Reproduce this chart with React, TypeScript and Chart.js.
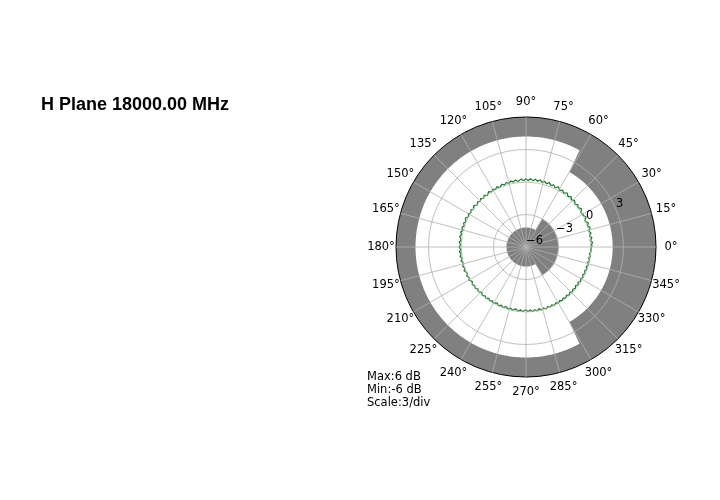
import React, { useEffect, useRef } from "react";
import { Chart, registerables } from "chart.js";

Chart.register(...registerables);

const TITLE = "H Plane 18000.00 MHz";
const NOTES = ["Max:6 dB", "Min:-6 dB", "Scale:3/div"];

const R_MIN = -6;
const R_MAX = 6;
const R_STEP = 3;
const R_TICK_VALUES = [-6, -3, 0, 3];
const R_TICK_LABELS = ["\u22126", "\u22123", "0", "3"];
const R_LABEL_ANGLE = 22.5;

const ANGLE_TICKS = [0, 15, 30, 45, 60, 75, 90, 105, 120, 135, 150, 165, 180, 195, 210, 225, 240, 255, 270, 285, 300, 315, 330, 345];
const ANGLE_TICK_LABELS = ["0°", "15°", "30°", "45°", "60°", "75°", "90°", "105°", "120°", "135°", "150°", "165°", "180°", "195°", "210°", "225°", "240°", "255°", "270°", "285°", "300°", "315°", "330°", "345°"];

// front sector of the mask: theta >= 300 or theta <= 60
const MASK_FRONT_SECTOR = [300, 60];
// mask limits in dB: [front sector, remaining sector]
const UPPER_MASK_DB = [2.0, 4.2];
const LOWER_MASK_DB = [-3.0, -4.2];

// measured gain (dB), theta = 0..359 deg, counter-clockwise
const GAIN_DB = [
  0.02, 0.10, 0.01, 0.12, 0.16, 0.05, -0.04, 0.07, 0.14, 0.04, -0.05, 0.03, 0.13, 0.06, -0.03,
  0.04, 0.14, 0.18, 0.08, 0.00, 0.07, 0.16, 0.09, -0.01, -0.05, 0.05, 0.15, 0.19, 0.10, 0.02,
  0.09, 0.01, -0.04, 0.06, 0.17, 0.21, 0.11, 0.02, 0.08, 0.18, 0.10, 0.00, 0.07, 0.16, 0.20,
  0.11, 0.04, 0.13, 0.23, 0.15, 0.06, 0.12, 0.22, 0.26, 0.16, 0.07, 0.14, 0.24, 0.17, 0.09,
  0.15, 0.25, 0.29, 0.19, 0.11, 0.18, 0.28, 0.20, 0.13, 0.22, 0.31, 0.23, 0.14, 0.21, 0.30,
  0.22, 0.15, 0.24, 0.33, 0.25, 0.17, 0.23, 0.32, 0.24, 0.16, 0.22, 0.31, 0.23, 0.15, 0.21,
  0.29, 0.21, 0.13, 0.20, 0.30, 0.22, 0.14, 0.10, 0.18, 0.27, 0.19, 0.11, 0.17, 0.25, 0.16,
  0.08, 0.15, 0.23, 0.14, 0.06, 0.12, 0.21, 0.13, 0.05, 0.01, 0.10, 0.18, 0.09, 0.01, 0.08,
  0.16, 0.07, -0.01, 0.06, 0.15, 0.08, 0.00, -0.05, 0.04, 0.13, 0.05, -0.03, 0.03, 0.12, 0.04,
  -0.04, 0.02, 0.11, 0.03, -0.06, 0.01, 0.10, 0.14, 0.05, -0.02, 0.04, 0.13, 0.06, -0.01, 0.05,
  0.14, 0.07, 0.00, 0.06, 0.15, 0.18, 0.09, 0.02, 0.08, 0.17, 0.10, 0.03, 0.09, 0.18, 0.11,
  0.04, 0.10, 0.19, 0.12, 0.05, 0.11, 0.20, 0.13, 0.06, 0.02, 0.09, 0.18, 0.11, 0.04, 0.10,
  0.17, 0.09, 0.02, 0.08, 0.16, 0.08, 0.01, 0.07, 0.15, 0.07, -0.01, 0.05, 0.13, 0.06, -0.01,
  -0.04, 0.03, 0.11, 0.04, -0.03, 0.04, 0.12, 0.05, -0.02, -0.06, 0.01, 0.09, 0.02, -0.05, 0.01,
  0.08, 0.02, -0.06, -0.10, -0.02, 0.05, -0.01, -0.08, -0.02, 0.04, -0.03, -0.11, -0.04, 0.03, -0.03,
  -0.10, -0.14, -0.06, 0.01, -0.05, -0.12, -0.06, 0.00, -0.07, -0.15, -0.08, -0.01, -0.07, -0.14, -0.06,
  0.00, -0.07, -0.15, -0.18, -0.10, -0.03, -0.09, -0.17, -0.10, -0.03, -0.09, -0.16, -0.19, -0.11, -0.05,
  -0.11, -0.18, -0.10, -0.04, -0.10, -0.17, -0.20, -0.12, -0.05, -0.11, -0.18, -0.10, -0.03, -0.09, -0.16,
  -0.19, -0.11, -0.04, -0.10, -0.17, -0.09, -0.02, -0.08, -0.16, -0.09, -0.03, -0.10, -0.17, -0.09, -0.02,
  -0.08, -0.15, -0.07, 0.00, -0.06, -0.14, -0.07, -0.01, -0.08, -0.15, -0.08, -0.02, -0.09, -0.16, -0.08,
  -0.02, -0.08, -0.16, -0.09, -0.03, -0.10, -0.17, -0.10, -0.04, -0.11, -0.19, -0.12, -0.05, -0.11, -0.18,
  -0.10, -0.04, -0.10, -0.18, -0.11, -0.05, -0.12, -0.20, -0.13, -0.06, -0.12, -0.19, -0.11, -0.05, -0.11,
  -0.18, -0.10, -0.04, -0.10, -0.17, -0.09, -0.03, -0.09, -0.16, -0.08, -0.02, -0.08, -0.15, -0.07, -0.01,
  -0.07, -0.14, -0.06, 0.00, -0.06, -0.13, -0.05, 0.01, -0.05, -0.12, -0.04, 0.03, -0.04, 0.04, -0.02,
];

const N = GAIN_DB.length;
// radar index i runs clockwise from east => theta = (360 - i) mod 360
const thetaOf = (i: number) => (N - i) % N;
const inFront = (t: number) => t >= MASK_FRONT_SECTOR[0] || t <= MASK_FRONT_SECTOR[1];

const FONT = '"DejaVu Sans", "Noto Sans", sans-serif';

const labelPlugin = {
  id: "polarLabels",
  afterDraw(chart: any) {
    const scale = chart.scales.r;
    const ctx = chart.ctx;
    ctx.save();
    ctx.font = `11.5px ${FONT}`;
    ctx.fillStyle = "#000";
    ctx.textAlign = "center";
    ctx.textBaseline = "middle";
    ANGLE_TICKS.forEach((a, k) => {
      const idx = (N - a) % N;
      const p = scale.getPointPosition(idx, scale.drawingArea + 15);
      ctx.fillText(ANGLE_TICK_LABELS[k], p.x, p.y);
    });
    ctx.textAlign = "left";
    ctx.textBaseline = "bottom";
    R_TICK_VALUES.forEach((v, k) => {
      const p = scale.getPointPositionForValue(N - R_LABEL_ANGLE, v);
      ctx.fillText(R_TICK_LABELS[k], p.x, p.y);
    });
    ctx.restore();
  },
};

export default function App() {
  const ref = useRef<HTMLCanvasElement | null>(null);

  useEffect(() => {
    if (!ref.current) return;
    const labels = GAIN_DB.map((_, i) => String(thetaOf(i)));
    const gain = GAIN_DB.map((_, i) => GAIN_DB[thetaOf(i)]);
    const upper = GAIN_DB.map((_, i) => (inFront(thetaOf(i)) ? UPPER_MASK_DB[0] : UPPER_MASK_DB[1]));
    const lower = GAIN_DB.map((_, i) => (inFront(thetaOf(i)) ? LOWER_MASK_DB[0] : LOWER_MASK_DB[1]));

    const chart = new Chart(ref.current, {
      type: "radar",
      data: {
        labels,
        datasets: [
          {
            data: upper,
            fill: "end",
            backgroundColor: "#808080",
            borderWidth: 0,
            borderColor: "rgba(0,0,0,0)",
            pointRadius: 0,
          },
          {
            data: lower,
            fill: "start",
            backgroundColor: "#808080",
            borderWidth: 0,
            borderColor: "rgba(0,0,0,0)",
            pointRadius: 0,
          },
          {
            data: gain,
            fill: false,
            borderColor: "#147a24",
            borderWidth: 1.2,
            pointRadius: 0,
          },
        ],
      },
      options: {
        responsive: false,
        animation: false,
        devicePixelRatio: 1,
        layout: { padding: { left: 396, top: 117, right: 64, bottom: 123 } },
        plugins: {
          legend: { display: false },
          tooltip: { enabled: false },
        },
        elements: { line: { tension: 0 }, point: { radius: 0 } },
        scales: {
          r: {
            min: R_MIN,
            max: R_MAX,
            startAngle: 90,
            ticks: { display: false, stepSize: R_STEP },
            pointLabels: { display: false },
            grid: {
              circular: true,
              z: 1,
              color: (c: any) => (c.tick && c.tick.value === R_MAX ? "#000000" : "#b0b0b0"),
              lineWidth: (c: any) => (c.tick && c.tick.value === R_MAX ? 1 : 0.8),
            },
            angleLines: {
              display: true,
              color: "#b0b0b0",
              lineWidth: (c: any) => (Number(c.label) % 15 === 0 ? 0.8 : 0),
            },
          },
        },
      } as any,
      plugins: [labelPlugin],
    });
    return () => chart.destroy();
  }, []);

  return (
    <div style={{ position: "absolute", left: 0, top: 0, width: 720, height: 500, background: "#fff" }}>
      <canvas ref={ref} width={720} height={500} style={{ position: "absolute", left: 0, top: 0, width: 720, height: 500 }} />
      <div
        style={{
          position: "absolute",
          left: 41,
          top: 95,
          font: 'bold 18px Arial, "Liberation Sans", sans-serif',
          lineHeight: "18px",
          color: "#000",
          whiteSpace: "nowrap",
        }}
      >
        {TITLE}
      </div>
      <div
        style={{
          position: "absolute",
          left: 367,
          top: 369.5,
          fontFamily: FONT,
          fontSize: 11.5,
          lineHeight: "13px",
          color: "#000",
          whiteSpace: "nowrap",
        }}
      >
        {NOTES.map((t) => (
          <div key={t}>{t}</div>
        ))}
      </div>
    </div>
  );
}
